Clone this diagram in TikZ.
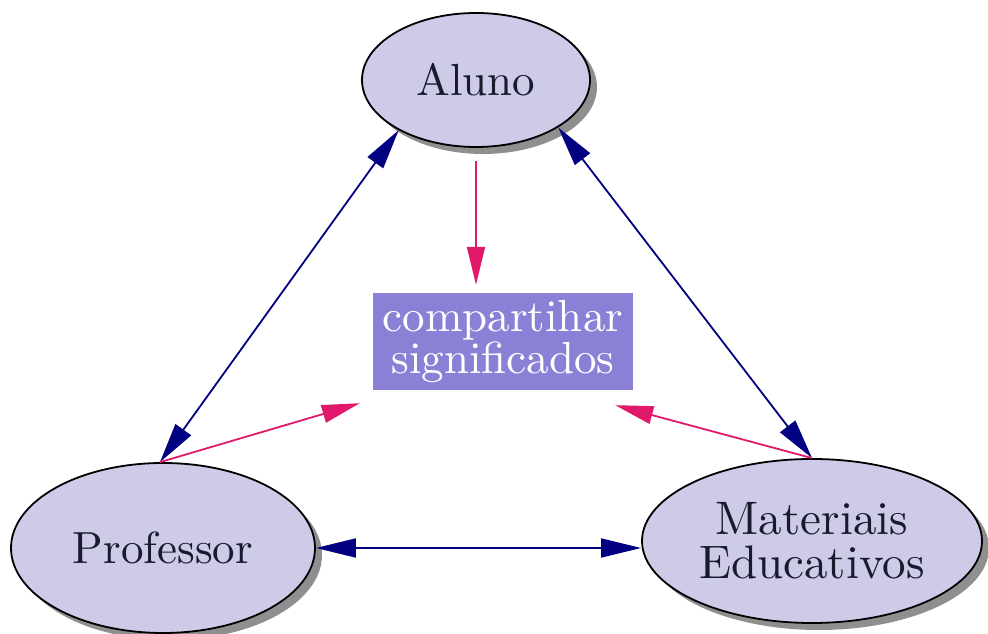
\documentclass[tikz,border=0pt]{standalone}
\usepackage{fontspec}
\setmainfont{lmroman10-regular.otf}
\usetikzlibrary{arrows.meta,shadows,calc,shapes.geometric}
\definecolor{ellfill}{HTML}{CDCBE8}
\definecolor{boxfill}{HTML}{8A80D6}
\definecolor{navyarrow}{HTML}{000080}
\definecolor{pinkarrow}{HTML}{E0196A}
\definecolor{txtdark}{HTML}{1A1A2E}
\tikzset{
  actor/.style={ellipse, draw=black, line width=1.8pt, fill=ellfill, inner sep=0pt,
    text=txtdark, font=\fontsize{45}{37}\selectfont, align=center,
    drop shadow={shadow xshift=7pt, shadow yshift=-7pt, fill=black!55, opacity=0.8}},
  sharebox/.style={rectangle, fill=boxfill, inner sep=0pt, text=white,
    minimum width=260pt, minimum height=97pt, align=center,
    font=\fontsize{45}{38}\selectfont},
  bluelink/.style={draw=navyarrow, line width=1.8pt,
    {Triangle[length=40pt,width=19pt]}-{Triangle[length=40pt,width=19pt]}},
  pinklink/.style={draw=pinkarrow, line width=1.8pt, -{Triangle[length=38pt,width=18pt]}}
}
\begin{document}
\begin{tikzpicture}[x=1pt,y=1pt]
\useasboundingbox (0,0) rectangle (988,634);
\node[actor, minimum width=228pt, minimum height=134pt] (aluno) at (476,554) {Aluno};
\node[actor, minimum width=304pt, minimum height=170pt] (prof) at (163,86) {Professor};
\node[actor, minimum width=340pt, minimum height=164pt, font=\fontsize{47}{44}\selectfont] (mat) at (812,93) {Materiais\\Educativos};
\node[sharebox] (box) at (503,292.5) {compartihar\\significados};
% blue double arrows
\draw[bluelink] (aluno.213) -- (prof.92);
\draw[bluelink] (aluno.-30) -- (mat.north);
\draw[bluelink] (prof.east) -- (prof.east -| mat.west);
% pink arrows
\coordinate (pinkL) at ($(box.south west)+(-13,-13)$);
\coordinate (pinkR) at ($(box.south east)+(-18,-15)$);
\draw[pinklink, shorten <=13pt, shorten >=8pt] (aluno.south) -- (aluno.south |- box.north);
\draw[pinklink] (prof.92) -- (pinkL);
\draw[pinklink] (mat.north) -- (pinkR);
\end{tikzpicture}
\end{document}
